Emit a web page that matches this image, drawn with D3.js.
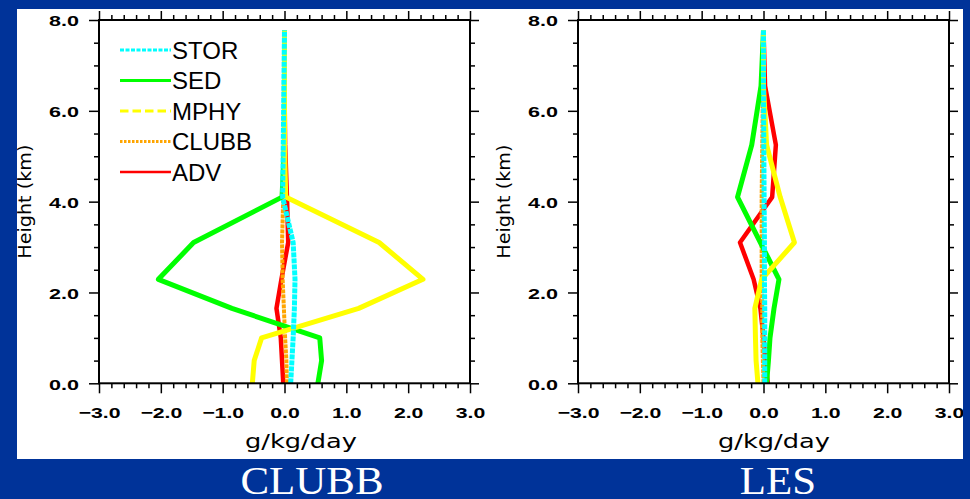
<!DOCTYPE html>
<html>
<head>
<meta charset="utf-8">
<script src="https://cdn.jsdelivr.net/npm/d3@7"></script>
<style>
  html, body { margin: 0; padding: 0; background: #003399; overflow: hidden; }
  svg { display: block; }
</style>
</head>
<body>
<svg id="chart" width="970" height="499"></svg>
<script>
// Model levels (km) shared by every profile
const heights = [0, 0.5, 1.0, 1.65, 2.29, 3.1, 4.1, 5.25, 6.55, 7.78];

// Liquid water budget terms (g/kg/day), CLUBB run
const storClubb  = [0.10, 0.12, 0.14, 0.16, 0.17, 0.14, -0.03, -0.02, -0.01, 0.0];
const sedClubb   = [0.54, 0.60, 0.57, -0.85, -2.04, -1.47, -0.04, 0.0, 0.0, 0.0];
const mphyClubb  = [-0.52, -0.49, -0.37, 1.20, 2.24, 1.53, 0.02, 0.0, 0.0, 0.0];
const clubbClubb = [0.04, 0.03, 0.01, -0.01, -0.03, -0.04, -0.02, -0.01, -0.01, 0.0];
const advClubb   = [-0.02, -0.04, -0.06, -0.13, -0.05, 0.06, 0.04, 0.01, 0.0, 0.0];

// Same terms, LES run
const storLes  = [0.02, 0.02, 0.02, 0.02, 0.015, 0.015, 0.01, 0.005, 0.0, 0.0];
const sedLes   = [0.05, 0.08, 0.105, 0.17, 0.25, -0.05, -0.42, -0.19, -0.04, 0.0];
const mphyLes  = [-0.09, -0.12, -0.13, -0.14, -0.03, 0.50, 0.27, 0.05, 0.0, 0.0];
const clubbLes = [0.0, -0.01, -0.02, -0.02, -0.03, -0.03, -0.03, -0.02, -0.01, 0.0];
const advLes   = [0.07, 0.03, 0.0, -0.05, -0.16, -0.38, 0.14, 0.20, 0.025, 0.0];

const legendNames = ["STOR", "SED", "MPHY", "CLUBB", "ADV"];
const panelTitles = ["CLUBB", "LES"];
const xTickValues = [-3, -2, -1, 0, 1, 2, 3];
const xTickLabels = ["\u22123.0", "\u22122.0", "\u22121.0", "0.0", "1.0", "2.0", "3.0"];
const yTickValues = [0, 2, 4, 6, 8];
const yTickLabels = ["0.0", "2.0", "4.0", "6.0", "8.0"];
const xTitle = "g/kg/day";
const yTitle = "Height (km)";

// Line styling per term
const styles = {
  STOR:  { color: "#00FFFF", width: 5,   dash: "5,1",   legWidth: 3,   legDash: "4,1.5" },
  SED:   { color: "#00FF00", width: 5,   dash: null,    legWidth: 3,   legDash: null },
  MPHY:  { color: "#FFFF00", width: 5,   dash: null,    legWidth: 3,   legDash: "8.5,4" },
  CLUBB: { color: "#FFA500", width: 4,   dash: "4,1",   legWidth: 3,   legDash: "2.5,1.5" },
  ADV:   { color: "#FF0000", width: 4.5, dash: null,    legWidth: 2.5, legDash: null }
};

const panels = [
  { title: panelTitles[0], left: 99,  titleX: 312, xTitleX: 301, legend: true,
    series: { STOR: storClubb, SED: sedClubb, MPHY: mphyClubb, CLUBB: clubbClubb, ADV: advClubb } },
  { title: panelTitles[1], left: 578, titleX: 778, xTitleX: 774, legend: false,
    series: { STOR: storLes, SED: sedLes, MPHY: mphyLes, CLUBB: clubbLes, ADV: advLes } }
];
// Stacking order of the profiles (last on top)
const drawOrder = ["ADV", "CLUBB", "SED", "MPHY", "STOR"];

const plotW = 371, plotTop = 20, plotBottom = 383.3;
const svg = d3.select("#chart");

// White sheet on the blue slide
svg.append("defs").append("clipPath").attr("id", "sheet")
  .append("rect").attr("x", 17).attr("y", 9).attr("width", 946).attr("height", 450);
svg.append("rect").attr("x", 17).attr("y", 9).attr("width", 946).attr("height", 450).attr("fill", "#ffffff");
const sheet = svg.append("g").attr("clip-path", "url(#sheet)");

const tickFont = "'Liberation Sans', Arial, sans-serif";

panels.forEach(p => {
  const x = d3.scaleLinear().domain([-3, 3]).range([p.left, p.left + plotW]);
  const y = d3.scaleLinear().domain([0, 8]).range([plotBottom, plotTop]);
  const xMinor = d3.range(-3, 3.001, 0.2).filter(v => Math.abs(v - Math.round(v)) > 1e-6);
  const yMinor = d3.range(0, 8.001, 0.5).filter(v => Math.abs(v / 2 - Math.round(v / 2)) > 1e-6);
  const g = sheet.append("g");

  // Profiles
  const line = d3.line().x(d => x(d[0])).y(d => y(d[1]));
  drawOrder.forEach(name => {
    const vals = p.series[name];
    const st = styles[name];
    g.append("path")
      .datum(vals.map((v, i) => [v, heights[i]]))
      .attr("d", line)
      .attr("fill", "none")
      .attr("stroke", st.color)
      .attr("stroke-width", st.width)
      .attr("stroke-linejoin", "round")
      .attr("stroke-dasharray", st.dash);
  });

  // Axes: major + minor ticks on all four sides, pointing outward
  const addAxis = (axis, transform) => {
    const a = g.append("g").attr("transform", transform).call(axis);
    a.select(".domain").remove();
    a.selectAll(".tick line").attr("stroke", "#000").attr("stroke-width", 1.5);
    return a;
  };
  const bx = addAxis(d3.axisBottom(x).tickValues(xTickValues).tickSize(10)
    .tickFormat((d, i) => xTickLabels[i]), `translate(0,${plotBottom})`);
  addAxis(d3.axisBottom(x).tickValues(xMinor).tickSize(5).tickFormat(""), `translate(0,${plotBottom})`);
  addAxis(d3.axisTop(x).tickValues(xTickValues).tickSize(9).tickFormat(""), `translate(0,${plotTop})`);
  addAxis(d3.axisTop(x).tickValues(xMinor).tickSize(5).tickFormat(""), `translate(0,${plotTop})`);
  const ly = addAxis(d3.axisLeft(y).tickValues(yTickValues).tickSize(10)
    .tickFormat((d, i) => yTickLabels[i]), `translate(${p.left},0)`);
  addAxis(d3.axisLeft(y).tickValues(yMinor).tickSize(5).tickFormat(""), `translate(${p.left},0)`);
  addAxis(d3.axisRight(y).tickValues(yTickValues).tickSize(9).tickFormat(""), `translate(${p.left + plotW},0)`);
  addAxis(d3.axisRight(y).tickValues(yMinor).tickSize(5).tickFormat(""), `translate(${p.left + plotW},0)`);

  bx.selectAll(".tick text")
    .attr("y", null).attr("dy", null)
    .attr("transform", "translate(0,34.7) scale(1.37,1)")
    .attr("text-anchor", "middle")
    .attr("font-family", tickFont).attr("font-weight", "bold").attr("font-size", 15.5)
    .attr("fill", "#000");
  ly.selectAll(".tick text")
    .attr("x", null).attr("dy", null)
    .attr("transform", "translate(-20,5.8) scale(1.39,1)")
    .attr("text-anchor", "end")
    .attr("font-family", tickFont).attr("font-weight", "bold").attr("font-size", 15.5)
    .attr("fill", "#000");

  // Plot frame
  g.append("rect")
    .attr("x", p.left).attr("y", plotTop)
    .attr("width", plotW).attr("height", plotBottom - plotTop)
    .attr("fill", "none").attr("stroke", "#000").attr("stroke-width", 2);

  // Axis titles
  g.append("text")
    .attr("x", p.xTitleX).attr("y", 448)
    .attr("text-anchor", "middle")
    .attr("font-family", "'DejaVu Sans', Verdana, sans-serif").attr("font-size", 19)
    .attr("textLength", 112).attr("lengthAdjust", "spacingAndGlyphs")
    .attr("fill", "#000").text(xTitle);
  g.append("text")
    .attr("transform", `translate(${p.left - 68},${(plotTop + plotBottom) / 2}) rotate(-90)`)
    .attr("text-anchor", "middle")
    .attr("font-family", "'DejaVu Sans', Verdana, sans-serif").attr("font-size", 18)
    .attr("textLength", 114).attr("lengthAdjust", "spacingAndGlyphs")
    .attr("fill", "#000").text(yTitle);

  // Legend
  if (p.legend) {
    const rowY = d3.scaleLinear().domain([0, legendNames.length - 1]).range([50, 172]);
    legendNames.forEach((name, i) => {
      const st = styles[name];
      g.append("line")
        .attr("x1", 120).attr("x2", 171)
        .attr("y1", rowY(i)).attr("y2", rowY(i))
        .attr("stroke", st.color).attr("stroke-width", st.legWidth)
        .attr("stroke-dasharray", st.legDash);
      g.append("text")
        .attr("x", 172).attr("y", rowY(i) + 8.7)
        .attr("font-family", tickFont).attr("font-size", 24)
        .attr("fill", "#000").text(name);
    });
  }

  // Panel caption on the slide
  svg.append("text")
    .attr("transform", `translate(${p.titleX},494) scale(1.1,1)`)
    .attr("text-anchor", "middle")
    .attr("font-family", "'Liberation Serif', 'Times New Roman', serif").attr("font-size", 39)
    .attr("fill", "#ffffff").text(p.title);
});
</script>
</body>
</html>
